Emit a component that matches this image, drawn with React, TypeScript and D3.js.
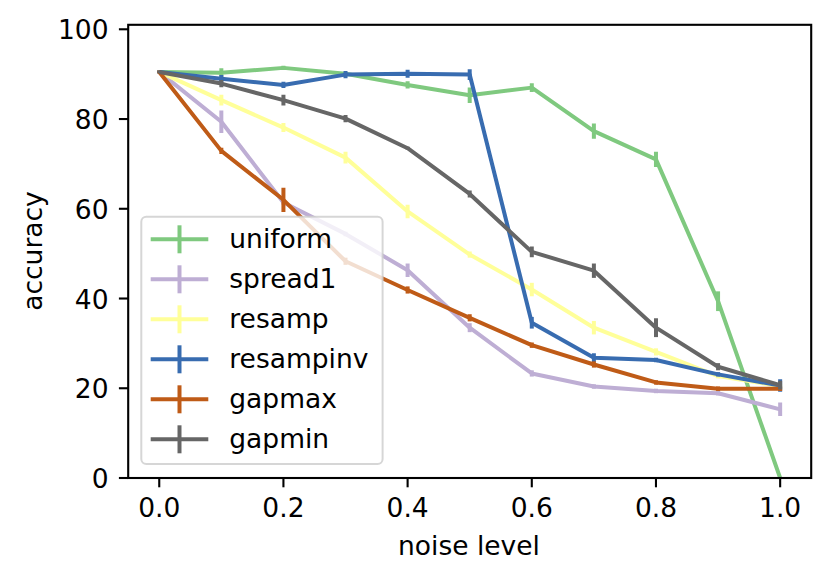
import React from "react";
import * as d3 from "d3";

const noise = [0.0, 0.1, 0.2, 0.3, 0.4, 0.5, 0.6, 0.7, 0.8, 0.9, 1.0];

const seriesNames = ["uniform", "spread1", "resamp", "resampinv", "gapmax", "gapmin"];
const seriesColors = ["#7fc97f", "#beaed4", "#ffff99", "#386cb0", "#bf5b17", "#666666"];

const uniformVals = [90.5, 90.3, 91.4, 90.1, 87.6, 85.3, 87.0, 77.3, 71.0, 39.4, 0.0];
const uniformErr = [0.3, 1.0, 0.5, 0.3, 0.8, 1.7, 1.0, 1.7, 1.7, 2.2, 0.0];

const spread1Vals = [90.5, 79.4, 61.4, 54.4, 46.3, 33.5, 23.3, 20.4, 19.4, 18.9, 15.3];
const spread1Err = [0.3, 2.5, 0.5, 0.5, 1.5, 1.0, 0.7, 0.5, 0.5, 0.5, 1.5];

const resampVals = [90.5, 84.2, 78.1, 71.4, 59.4, 49.8, 42.0, 33.5, 28.1, 22.7, 20.5];
const resampErr = [0.3, 1.2, 1.0, 1.3, 1.5, 0.7, 1.5, 1.5, 0.8, 0.5, 0.5];

const resampinvVals = [90.5, 89.0, 87.6, 89.9, 90.1, 89.9, 34.6, 26.8, 26.3, 23.1, 20.6];
const resampinvErr = [0.3, 0.8, 0.7, 0.8, 0.9, 1.2, 1.3, 1.0, 0.5, 0.5, 1.4];

const gapmaxVals = [90.5, 72.9, 62.0, 48.3, 41.9, 35.7, 29.6, 25.3, 21.3, 19.9, 19.9];
const gapmaxErr = [0.3, 0.7, 2.7, 0.8, 0.8, 0.8, 0.6, 0.7, 0.5, 0.5, 0.5];

const gapminVals = [90.5, 87.9, 84.2, 80.1, 73.5, 63.3, 50.4, 46.2, 33.5, 24.8, 20.7];
const gapminErr = [0.3, 0.8, 1.2, 0.8, 0.3, 0.8, 1.2, 1.6, 2.1, 0.8, 1.0];

const allVals = [uniformVals, spread1Vals, resampVals, resampinvVals, gapmaxVals, gapminVals];
const allErr = [uniformErr, spread1Err, resampErr, resampinvErr, gapmaxErr, gapminErr];

const xTicks = [0.0, 0.2, 0.4, 0.6, 0.8, 1.0];
const yTicks = [0, 20, 40, 60, 80, 100];

const W = 831;
const H = 581;
const FONT = "DejaVu Sans";
const FS = 26.5;

export default function App() {
  const x = d3.scaleLinear().domain([-0.05, 1.05]).range([128.2, 811.2]);
  const y = d3.scaleLinear().domain([0, 101]).range([478, 24.8]);
  const line = d3
    .line<number>()
    .x((_, i) => x(noise[i]))
    .y((d) => y(d));

  const lw = 4;
  const legX = 141.3;
  const legY = 216.7;
  const legW = 241.3;
  const legH = 247.3;
  const rowY0 = 239.3;
  const rowStep = 40;

  return (
    <svg
      width={W}
      height={H}
      viewBox={`0 0 ${W} ${H}`}
      style={{ position: "absolute", left: 0, top: 0, background: "#fff" }}
      fontFamily={FONT}
    >
      <rect x={0} y={0} width={W} height={H} fill="#fff" />
      <defs>
        <clipPath id="plotclip">
          <rect x={x(-0.05)} y={y(101)} width={x(1.05) - x(-0.05)} height={y(0) - y(101)} />
        </clipPath>
      </defs>
      <g clipPath="url(#plotclip)">
        {seriesNames.map((name, si) => (
          <g key={name}>
            <path
              d={line(allVals[si]) || ""}
              fill="none"
              stroke={seriesColors[si]}
              strokeWidth={lw}
              strokeLinejoin="round"
              strokeLinecap="butt"
            />
            {allVals[si].map((v, i) => (
              <line
                key={i}
                x1={x(noise[i])}
                x2={x(noise[i])}
                y1={y(v - allErr[si][i])}
                y2={y(v + allErr[si][i])}
                stroke={seriesColors[si]}
                strokeWidth={lw}
              />
            ))}
          </g>
        ))}
      </g>

      {/* spines */}
      <rect
        x={x(-0.05)}
        y={y(101)}
        width={x(1.05) - x(-0.05)}
        height={y(0) - y(101)}
        fill="none"
        stroke="#000"
        strokeWidth={2.1}
      />

      {/* x ticks */}
      {xTicks.map((t) => (
        <g key={t}>
          <line x1={x(t)} x2={x(t)} y1={y(0)} y2={y(0) + 9.3} stroke="#000" strokeWidth={2.1} />
          <text x={x(t)} y={516.5} textAnchor="middle" fontSize={FS} fill="#000">
            {t.toFixed(1)}
          </text>
        </g>
      ))}
      {/* y ticks */}
      {yTicks.map((t) => (
        <g key={t}>
          <line x1={x(-0.05) - 9.3} x2={x(-0.05)} y1={y(t)} y2={y(t)} stroke="#000" strokeWidth={2.1} />
          <text x={108.5} y={y(t) + 10} textAnchor="end" fontSize={FS} fill="#000">
            {t}
          </text>
        </g>
      ))}

      <text x={469} y={555} textAnchor="middle" fontSize={FS} fill="#000">
        noise level
      </text>
      <text
        transform={`translate(41.5, 251) rotate(-90)`}
        textAnchor="middle"
        fontSize={FS}
        fill="#000"
      >
        accuracy
      </text>

      {/* legend */}
      <rect
        x={legX}
        y={legY}
        width={legW}
        height={legH}
        rx={5}
        ry={5}
        fill="#fff"
        fillOpacity={0.8}
        stroke="#cccccc"
        strokeOpacity={0.8}
        strokeWidth={2}
      />
      {seriesNames.map((name, si) => {
        const cy = rowY0 + si * rowStep;
        return (
          <g key={name}>
            <line x1={150.7} x2={208.3} y1={cy} y2={cy} stroke={seriesColors[si]} strokeWidth={lw} />
            <line x1={179.5} x2={179.5} y1={cy - 14} y2={cy + 14} stroke={seriesColors[si]} strokeWidth={lw} />
            <text x={229.3} y={cy + 8.7} fontSize={FS} fill="#000">
              {name}
            </text>
          </g>
        );
      })}
    </svg>
  );
}
